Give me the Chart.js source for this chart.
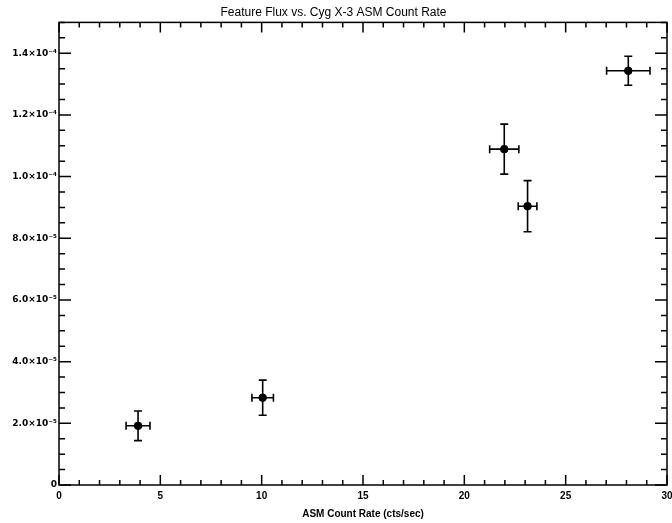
<!DOCTYPE html>
<html>
<head>
<meta charset="utf-8">
<script src="https://cdn.jsdelivr.net/npm/chart.js@4"></script>
<style>
  body { margin: 0; background: #fff; }
  canvas { display: block; }
</style>
</head>
<body>
<canvas id="fluxChart" width="672" height="523"></canvas>
<script>
const countRate = [3.9, 10.05, 21.97, 23.12, 28.09];
const countRateErr = [0.59, 0.53, 0.72, 0.46, 1.07];
const featureFlux = [1.92e-5, 2.83e-5, 1.089e-4, 9.04e-5, 1.343e-4];
const featureFluxErr = [0.48e-5, 0.57e-5, 0.81e-5, 0.83e-5, 0.47e-5];

const xTicks = [0, 5, 10, 15, 20, 25, 30];
const yTicks = [0, 2e-5, 4e-5, 6e-5, 8e-5, 1e-4, 1.2e-4, 1.4e-4];
const yTickLabels = ['0', '2.0×10⁻⁵', '4.0×10⁻⁵', '6.0×10⁻⁵', '8.0×10⁻⁵', '1.0×10⁻⁴', '1.2×10⁻⁴', '1.4×10⁻⁴'];

const FONT = '"Liberation Sans", Arial, sans-serif';
const TICK_FONT = '"DejaVu Sans", sans-serif';

// error bars drawn through the chart scales
const errorBars = {
  id: 'errorBars',
  beforeDatasetsDraw(chart) {
    const { ctx, scales: { x, y } } = chart;
    const cap = 4;
    ctx.save();
    ctx.strokeStyle = '#000';
    ctx.lineWidth = 1.6;
    countRate.forEach((cx, i) => {
      const py = y.getPixelForValue(featureFlux[i]);
      const px = x.getPixelForValue(cx);
      const x0 = x.getPixelForValue(cx - countRateErr[i]);
      const x1 = x.getPixelForValue(cx + countRateErr[i]);
      const y0 = y.getPixelForValue(featureFlux[i] - featureFluxErr[i]);
      const y1 = y.getPixelForValue(featureFlux[i] + featureFluxErr[i]);
      ctx.beginPath();
      ctx.moveTo(x0, py); ctx.lineTo(x1, py);
      ctx.moveTo(x0, py - cap); ctx.lineTo(x0, py + cap);
      ctx.moveTo(x1, py - cap); ctx.lineTo(x1, py + cap);
      ctx.moveTo(px, y0); ctx.lineTo(px, y1);
      ctx.moveTo(px - cap, y0); ctx.lineTo(px + cap, y0);
      ctx.moveTo(px - cap, y1); ctx.lineTo(px + cap, y1);
      ctx.stroke();
    });
    ctx.restore();
  }
};

// box + inward ticks on all four sides
const frameTicks = {
  id: 'frameTicks',
  afterDraw(chart) {
    const { ctx, chartArea: a, scales: { x, y } } = chart;
    ctx.save();
    ctx.strokeStyle = '#000';
    ctx.lineWidth = 1.5;
    ctx.strokeRect(a.left, a.top, a.right - a.left, a.bottom - a.top);
    ctx.beginPath();
    for (let v = 0; v <= 30; v += 1) {
      const len = v % 5 === 0 ? 10 : 5;
      const px = x.getPixelForValue(v);
      ctx.moveTo(px, a.bottom); ctx.lineTo(px, a.bottom - len);
      ctx.moveTo(px, a.top); ctx.lineTo(px, a.top + len);
    }
    for (let k = 0; k <= 30; k++) {
      const v = k * 5e-6;
      const len = k % 4 === 0 ? 12 : 6;
      const py = y.getPixelForValue(v);
      ctx.moveTo(a.left, py); ctx.lineTo(a.left + len, py);
      ctx.moveTo(a.right, py); ctx.lineTo(a.right - len, py);
    }
    ctx.stroke();
    ctx.restore();
  }
};

new Chart(document.getElementById('fluxChart'), {
  type: 'scatter',
  data: {
    datasets: [{
      data: countRate.map((v, i) => ({ x: v, y: featureFlux[i] })),
      backgroundColor: '#000',
      borderColor: '#000',
      pointRadius: 3.8,
      pointHoverRadius: 3.8
    }]
  },
  plugins: [errorBars, frameTicks],
  options: {
    responsive: false,
    animation: false,
    layout: { padding: { left: 0, right: 5, top: 0, bottom: 1 } },
    plugins: {
      legend: { display: false },
      tooltip: { enabled: false },
      title: {
        display: true,
        text: 'Feature Flux vs. Cyg X-3 ASM Count Rate',
        color: '#000',
        font: { family: FONT, size: 12, weight: 'normal' },
        padding: { top: 5, bottom: 3 }
      }
    },
    scales: {
      x: {
        type: 'linear',
        min: 0,
        max: 30,
        afterBuildTicks: s => { s.ticks = xTicks.map(v => ({ value: v })); },
        afterFit: s => { s.paddingRight = 0; s.paddingLeft = 0; },
        grid: { display: false, drawTicks: false },
        border: { display: false },
        ticks: { color: '#000', font: { family: FONT, size: 10, weight: 'bold' }, padding: 5 },
        title: {
          display: true,
          text: 'ASM Count Rate (cts/sec)',
          color: '#000',
          font: { family: FONT, size: 10, weight: 'bold' },
          padding: { top: 1, bottom: 2 }
        }
      },
      y: {
        type: 'linear',
        min: 0,
        max: 1.5e-4,
        afterBuildTicks: s => { s.ticks = yTicks.map(v => ({ value: v })); },
        afterFit: s => { s.width = 59; s.paddingTop = 0; s.paddingBottom = 0; },
        grid: { display: false, drawTicks: false },
        border: { display: false },
        ticks: {
          color: '#000',
          font: { family: TICK_FONT, size: 9, weight: 'bold' },
          padding: 2,
          callback: (v, i) => yTickLabels[i]
        }
      }
    }
  }
});
</script>
</body>
</html>
